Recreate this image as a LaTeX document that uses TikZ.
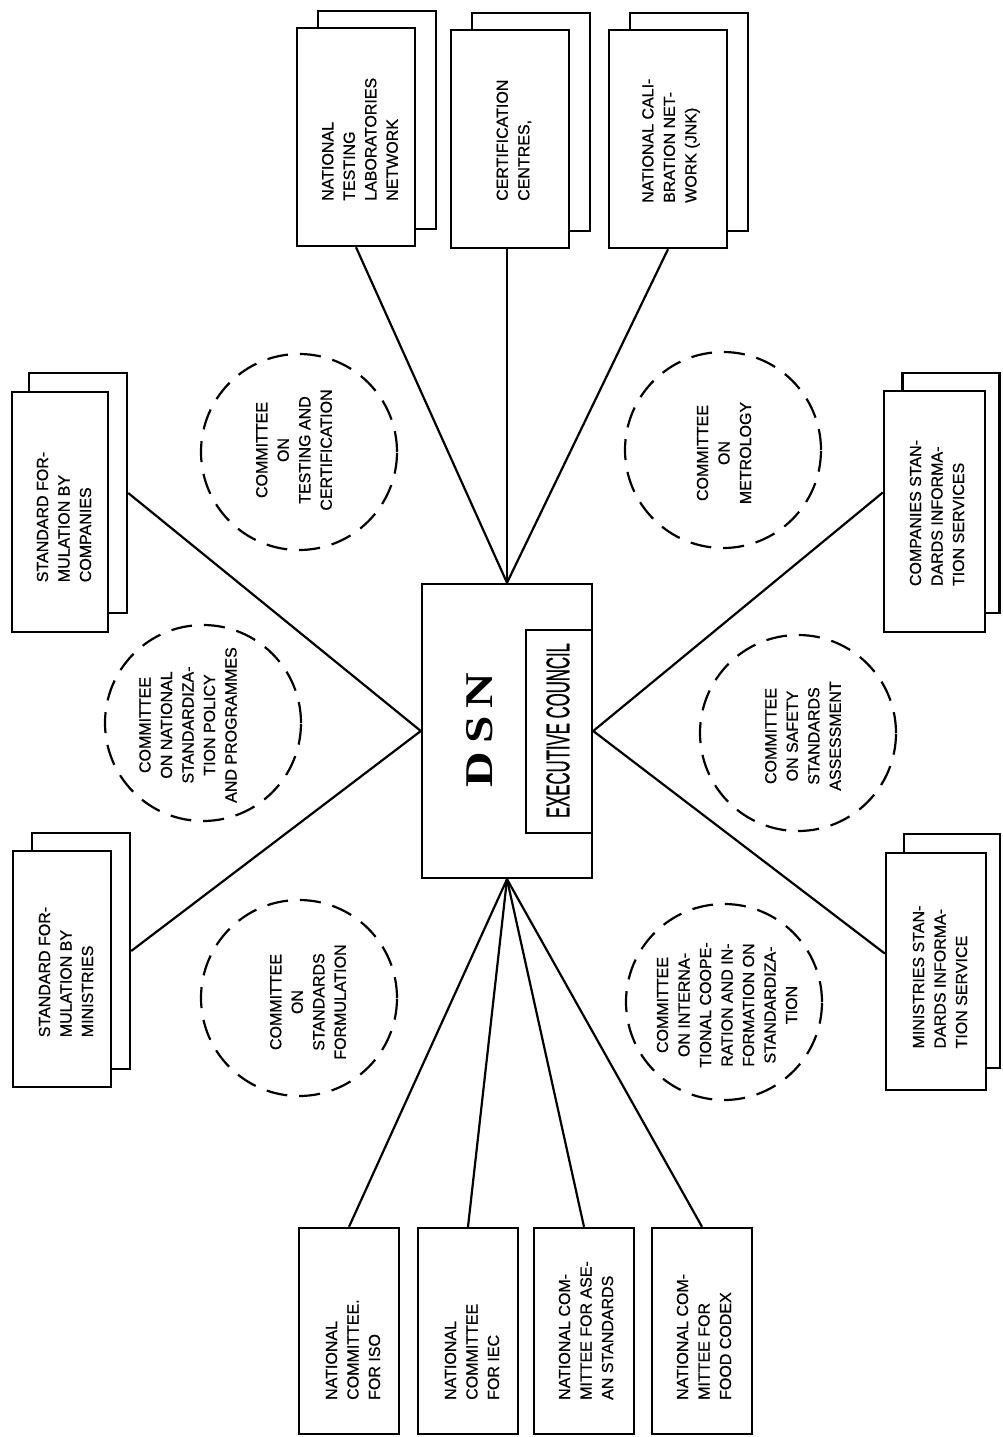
\documentclass[tikz,border=0pt]{standalone}
\usepackage{fontspec}
\setmainfont{Liberation Sans}
\newfontfamily\lblfont{Liberation Sans}[FakeBold=0.7]
\newfontfamily\dsnfont{Liberation Serif}
\begin{document}
\begin{tikzpicture}[x=1pt,y=-1pt,
  box/.style={draw, line width=2.4pt, fill=white, inner sep=0pt},
  conn/.style={line width=2.2pt},
  cmt/.style={draw, dash pattern=on 21pt off 12pt, line width=2.2pt, circle, minimum size=196pt, inner sep=0pt},
  lbl/.style={rotate=90, align=left, inner sep=0pt, font=\lblfont\fontsize{16}{21.5}\selectfont},
  clbl/.style={lbl, align=center}]
\useasboundingbox (0,0) rectangle (1002,1437);
\fill[white] (0,0) rectangle (1002,1437);

% top stacked boxes
\node[box, minimum width=118pt, minimum height=218pt] (t1b) at (377,120) {};
\node[box, minimum width=118pt, minimum height=218pt] (t1) at (356,137) {};
\node[box, minimum width=118pt, minimum height=218pt] (t2b) at (531,122) {};
\node[box, minimum width=118pt, minimum height=218pt] (t2) at (510,139) {};
\node[box, minimum width=118pt, minimum height=218pt] (t3b) at (689,122) {};
\node[box, minimum width=118pt, minimum height=218pt] (t3) at (668,139) {};
\node[lbl, anchor=west] (t1txt) at (360,201) {NATIONAL\\TESTING\\LABORATORIES\\NETWORK};
\node[lbl, anchor=west] (t2txt) at (514,201) {CERTIFICATION\\CENTRES,};
\node[lbl, anchor=west] (t3txt) at (671,203) {NATIONAL CALI-\\BRATION NET-\\WORK (JNK)};

% left stacked boxes
\node[box, minimum width=98pt, minimum height=240pt] (lcb) at (78,493) {};
\node[box, minimum width=96pt, minimum height=240pt] (lc) at (60,512) {};
\node[lbl] (lctxt) at (64,517) {STANDARD FOR-\\MULATION BY\\COMPANIES};
\node[box, minimum width=98pt, minimum height=236pt] (lmb) at (81,951) {};
\node[box, minimum width=98pt, minimum height=236pt] (lm) at (62,969) {};
\node[lbl] (lmtxt) at (66,972) {STANDARD FOR-\\MULATION BY\\MINISTRIES};

% right stacked boxes
\node[box, minimum width=97pt, minimum height=240pt] (rcb) at (951,493) {};
\node[box, minimum width=101pt, minimum height=241pt] (rc) at (934.5,511.5) {};
\node[lbl] (rctxt) at (937,513) {COMPANIES STAN-\\DARDS INFORMA-\\TION SERVICES};
\node[box, minimum width=96pt, minimum height=234pt] (rmb) at (952,951) {};
\node[box, minimum width=100pt, minimum height=237pt] (rm) at (936,971.5) {};
\node[lbl] (rmtxt) at (940,977) {MINISTRIES STAN-\\DARDS INFORMA-\\TION SERVICE};

% bottom boxes
\node[box, minimum width=100pt, minimum height=206pt] (b1) at (349,1331) {};
\node[box, minimum width=100pt, minimum height=206pt] (b2) at (468,1331) {};
\node[box, minimum width=100pt, minimum height=206pt] (b3) at (584,1331) {};
\node[box, minimum width=100pt, minimum height=206pt] (b4) at (702,1331) {};
\node[lbl, anchor=west] (b1txt) at (353,1400) {NATIONAL\\COMMITTEE.\\FOR ISO};
\node[lbl, anchor=west] (b2txt) at (472,1400) {NATIONAL\\COMMITTEE\\FOR IEC};
\node[lbl, anchor=west] (b3txt) at (586,1400) {NATIONAL COM-\\MITTEE FOR ASE-\\AN STANDARDS};
\node[lbl, anchor=west] (b4txt) at (704,1400) {NATIONAL COM-\\MITTEE FOR\\FOOD CODEX};

% central DSN
\node[box, minimum width=170pt, minimum height=294pt] (dsn) at (507,731) {};
\node[box, minimum width=66pt, minimum height=203pt] (exec) at (559,731.5) {};
\node[rotate=90, inner sep=0pt] (dsntxt) at (480,730) {\resizebox{115pt}{26pt}{\dsnfont\bfseries D\,S\,N}};
\node[rotate=90, inner sep=0pt] (exectxt) at (558,730.5) {\resizebox{175pt}{23pt}{\lblfont EXECUTIVE COUNCIL}};

% committees
\node[cmt] (c1) at (299,452) {};
\node[clbl] (c1txt) at (294,450) {COMMITTEE\\ON\\TESTING AND\\CERTIFICATION};
\node[cmt] (c2) at (203,723) {};
\node[clbl] (c2txt) at (188,725) {COMMITTEE\\ON NATIONAL\\STANDARDIZA-\\TION POLICY\\AND PROGRAMMES};
\node[cmt] (c3) at (299,998) {};
\node[clbl] (c3txt) at (308,1002) {COMMITTEE\\ON\\STANDARDS\\FORMULATION};
\node[cmt] (c4) at (723,450) {};
\node[clbl] (c4txt) at (724,453) {COMMITTEE\\ON\\METROLOGY};
\node[cmt] (c5) at (798,733) {};
\node[clbl] (c5txt) at (803,736) {COMMITTEE\\ON SAFETY\\STANDARDS\\ASSESSMENT};
\node[cmt] (c6) at (724,1002) {};
\node[clbl] (c6txt) at (727,1005) {COMMITTEE\\ON INTERNA-\\TIONAL COOPE-\\RATION AND IN-\\FORMATION ON\\STANDARDIZA-\\TION};

% connectors
\draw[conn] (t1.south) -- (dsn.north);
\draw[conn] (t2.south -| dsn.north) -- (dsn.north);
\draw[conn] (t3.south) -- (dsn.north);
\draw[conn] (lcb.east) -- (dsn.west);
\draw[conn] (lmb.east) -- (dsn.west);
\draw[conn] ([yshift=19pt]rc.west) -- (dsn.east);
\draw[conn] ([yshift=18pt]rm.west) -- (dsn.east);
\draw[conn] (b1.north) -- (dsn.south);
\draw[conn] (b2.north) -- (dsn.south);
\draw[conn] (b3.north) -- (dsn.south);
\draw[conn] (b4.north) -- (dsn.south);
\end{tikzpicture}
\end{document}
